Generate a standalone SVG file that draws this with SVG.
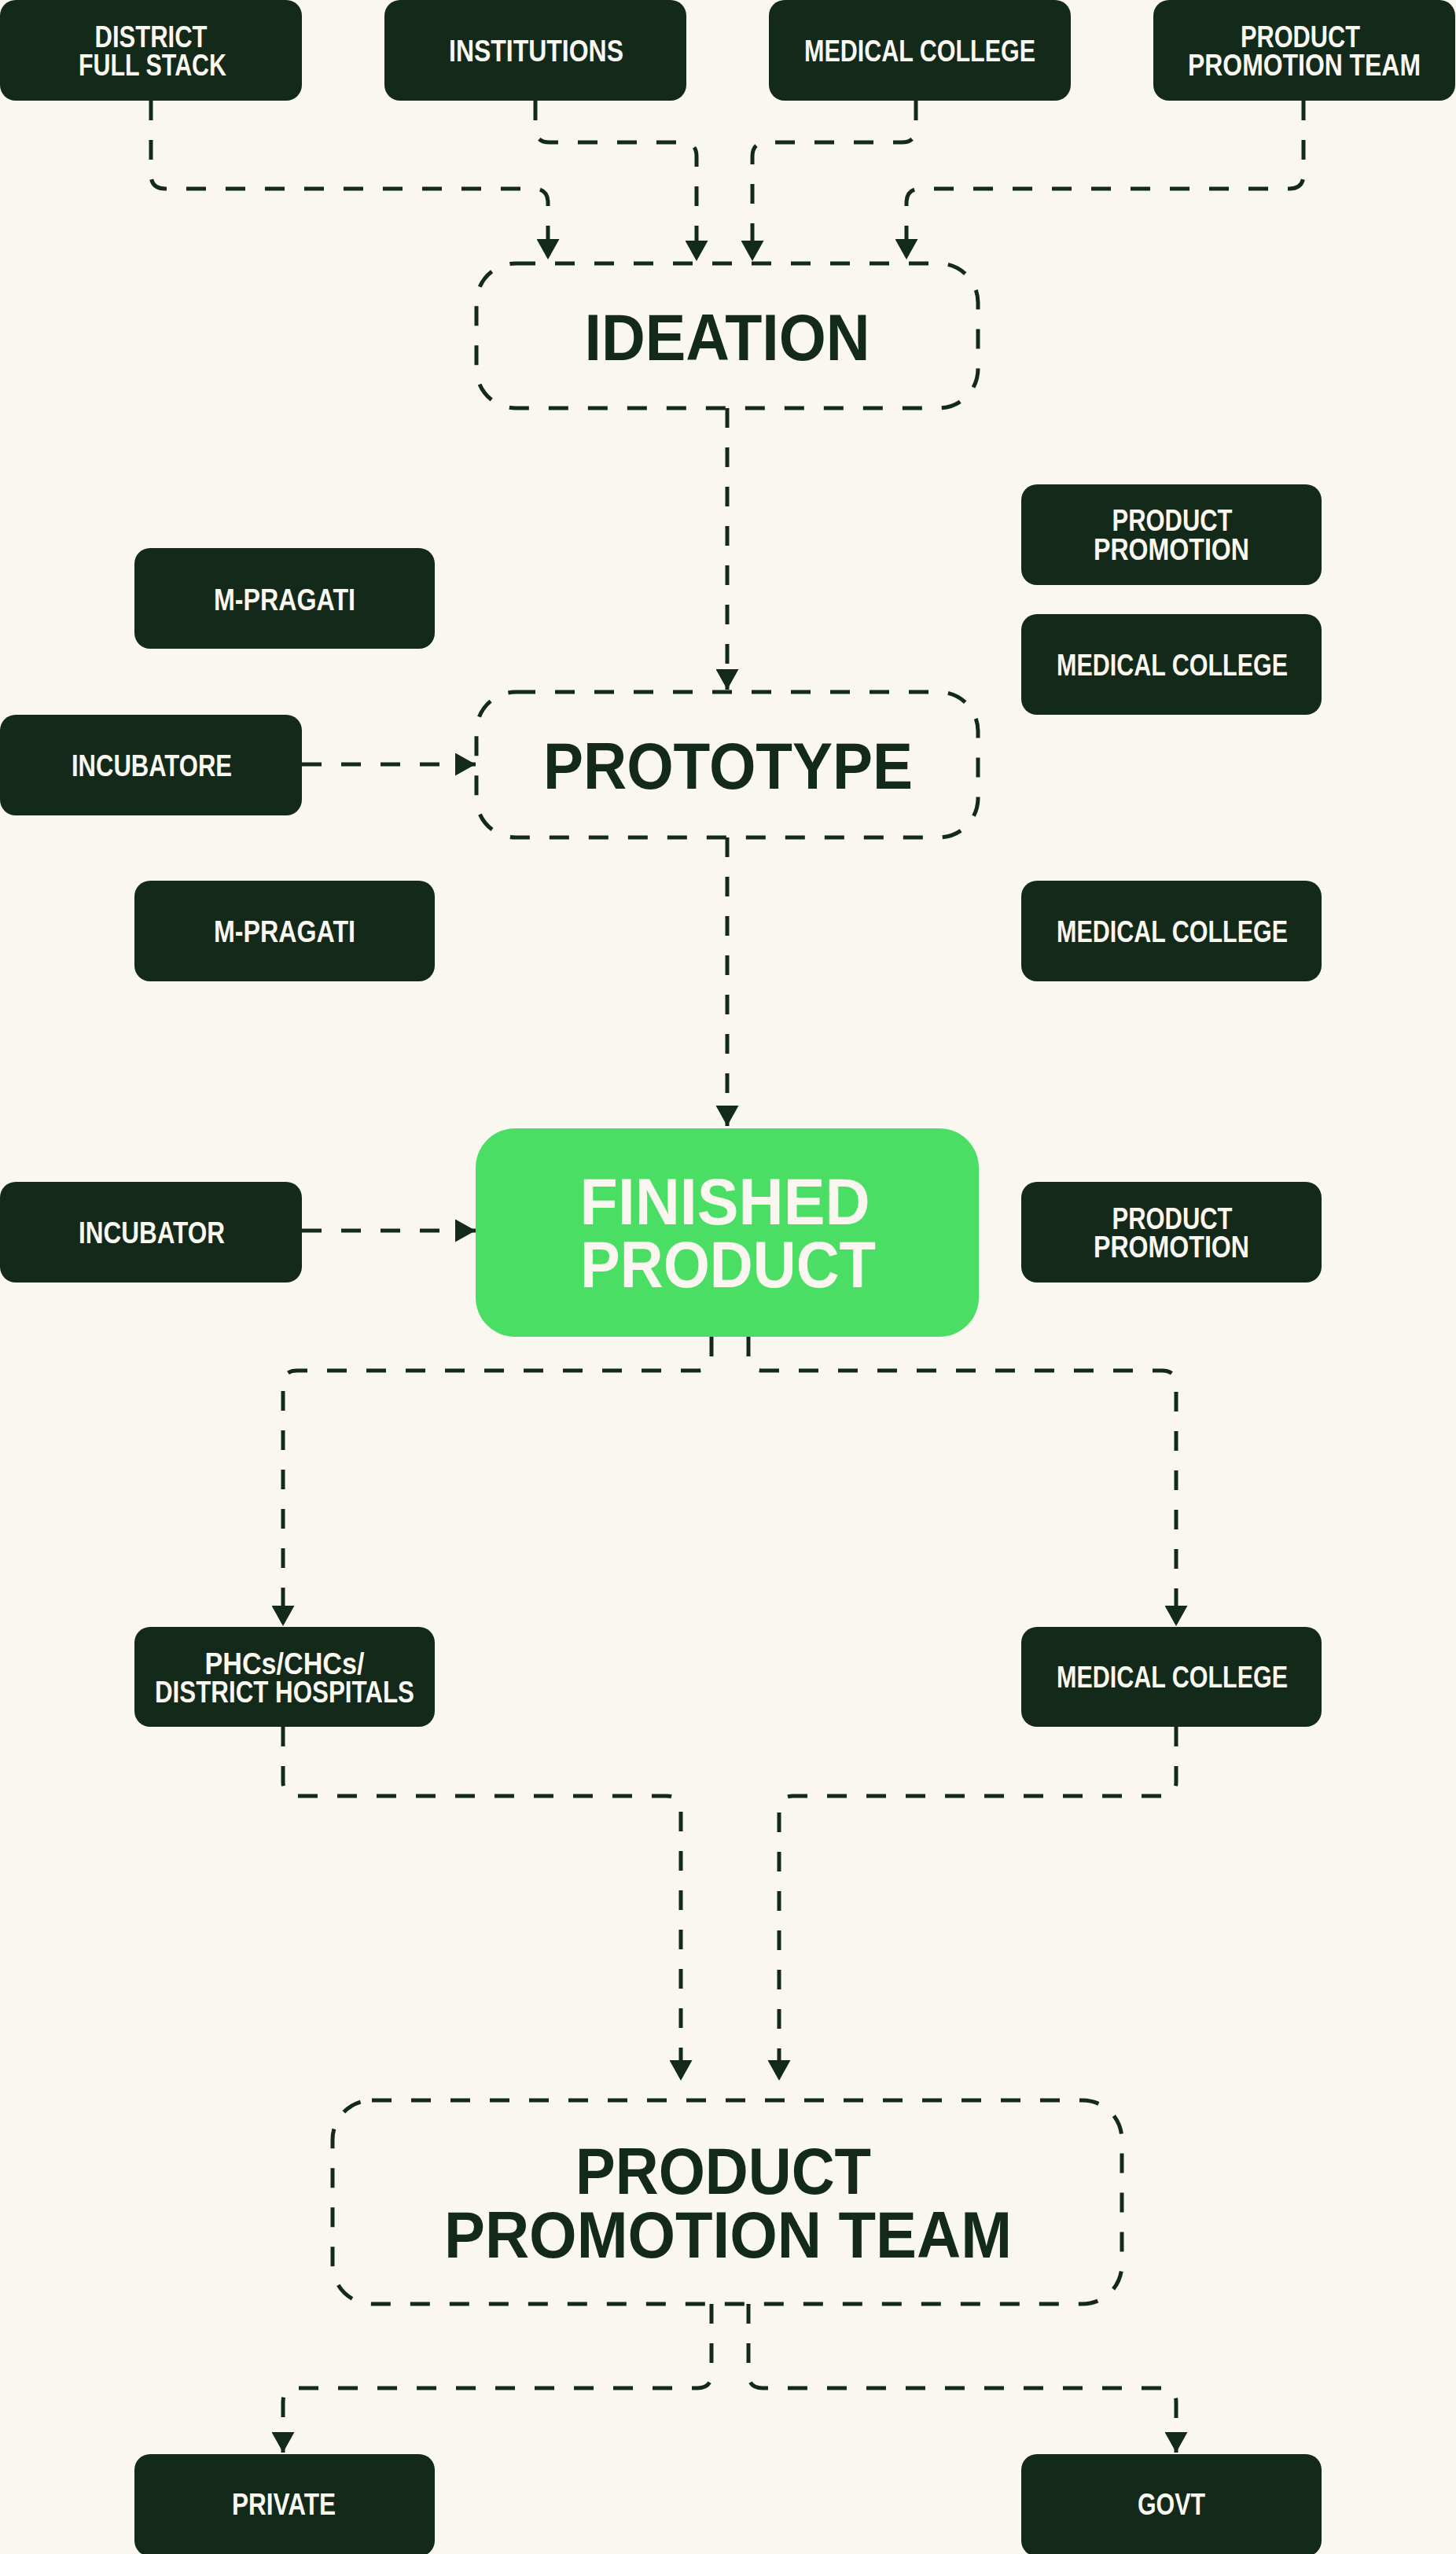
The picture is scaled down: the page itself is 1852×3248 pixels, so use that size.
<svg xmlns="http://www.w3.org/2000/svg" width="1852" height="3248" viewBox="0 0 1852 3248">
<defs>
<style>
.bg{fill:#FAF6F0}
.box{fill:#132A1B}
.t{font-family:"Liberation Sans",Arial,sans-serif;font-weight:700;font-size:39px;fill:#FAF6F0;text-anchor:middle}
.big{font-family:"Liberation Sans",Arial,sans-serif;font-weight:700;font-size:84px;fill:#132A1B;text-anchor:middle}
.bigw{fill:#FAF6F0}
.dash{fill:none;stroke:#132A1B;stroke-width:5;stroke-dasharray:25 25}
.c{fill:none;stroke:#132A1B;stroke-width:5;stroke-dasharray:25 25;marker-end:url(#ah)}
</style>
<marker id="ah" viewBox="0 0 26 29" refX="26" refY="14.5" markerWidth="26" markerHeight="29" markerUnits="userSpaceOnUse" orient="auto">
<path d="M0,0 L26,14.5 L0,29 Z" fill="#132A1B"/>
</marker>
</defs>
<rect class="bg" x="0" y="0" width="1852" height="3248"/>

<g id="connectors">
<path class="c" d="M192,128 V222 Q192,240 210,240 H679 Q697,240 697,258 V330"/>
<path class="c" d="M681,128 V163 Q681,181 699,181 H868 Q886,181 886,199 V332"/>
<path class="c" d="M1165,128 V163 Q1165,181 1147,181 H975 Q957,181 957,199 V332"/>
<path class="c" d="M1658,128 V222 Q1658,240 1640,240 H1171 Q1153,240 1153,258 V330"/>
<path class="c" d="M925,519 V877"/>
<path class="c" d="M384,972 H605"/>
<path class="c" d="M925,1065 V1432"/>
<path class="c" d="M384,1565 H605"/>
<path class="c" d="M905,1700 V1725 Q905,1743 887,1743 H378 Q360,1743 360,1761 V2068"/>
<path class="c" d="M952,1700 V1725 Q952,1743 970,1743 H1478 Q1496,1743 1496,1761 V2068"/>
<path class="c" d="M360,2196 V2266 Q360,2284 378,2284 H848 Q866,2284 866,2302 V2646"/>
<path class="c" d="M1496,2196 V2266 Q1496,2284 1478,2284 H1009 Q991,2284 991,2302 V2646"/>
<path class="c" d="M905,2930 V3019 Q905,3037 887,3037 H378 Q360,3037 360,3055 V3119"/>
<path class="c" d="M952,2930 V3019 Q952,3037 970,3037 H1478 Q1496,3037 1496,3055 V3119"/>
</g>

<g id="n-district">
<rect class="box" x="0" y="0" width="384" height="128" rx="20"/>
<text class="t" x="192" y="60" textLength="143" lengthAdjust="spacingAndGlyphs">DISTRICT</text>
<text class="t" x="194" y="96" textLength="188" lengthAdjust="spacingAndGlyphs">FULL STACK</text>
</g>
<g id="n-institutions">
<rect class="box" x="489" y="0" width="384" height="128" rx="20"/>
<text class="t" x="682" y="78" textLength="222" lengthAdjust="spacingAndGlyphs">INSTITUTIONS</text>
</g>
<g id="n-medcol-top">
<rect class="box" x="978" y="0" width="384" height="128" rx="20"/>
<text class="t" x="1170" y="78" textLength="294" lengthAdjust="spacingAndGlyphs">MEDICAL COLLEGE</text>
</g>
<g id="n-ppt-top">
<rect class="box" x="1467" y="0" width="384" height="128" rx="20"/>
<text class="t" x="1654" y="60" textLength="152" lengthAdjust="spacingAndGlyphs">PRODUCT</text>
<text class="t" x="1659" y="96" textLength="296" lengthAdjust="spacingAndGlyphs">PROMOTION TEAM</text>
</g>

<g id="n-ideation">
<rect class="dash" x="606" y="335" width="638" height="184" rx="50"/>
<text class="big" x="925" y="458" textLength="363" lengthAdjust="spacingAndGlyphs">IDEATION</text>
</g>

<g id="n-mpragati-1">
<rect class="box" x="171" y="697" width="382" height="128" rx="20"/>
<text class="t" x="362" y="776" textLength="180" lengthAdjust="spacingAndGlyphs">M-PRAGATI</text>
</g>
<g id="n-incubatore">
<rect class="box" x="0" y="909" width="384" height="128" rx="20"/>
<text class="t" x="193" y="987" textLength="204" lengthAdjust="spacingAndGlyphs">INCUBATORE</text>
</g>
<g id="n-mpragati-2">
<rect class="box" x="171" y="1120" width="382" height="128" rx="20"/>
<text class="t" x="362" y="1198" textLength="180" lengthAdjust="spacingAndGlyphs">M-PRAGATI</text>
</g>
<g id="n-pp-1">
<rect class="box" x="1299" y="616" width="382" height="128" rx="20"/>
<text class="t" x="1491" y="675" textLength="153" lengthAdjust="spacingAndGlyphs">PRODUCT</text>
<text class="t" x="1490" y="712" textLength="198" lengthAdjust="spacingAndGlyphs">PROMOTION</text>
</g>
<g id="n-medcol-1">
<rect class="box" x="1299" y="781" width="382" height="128" rx="20"/>
<text class="t" x="1491" y="859" textLength="294" lengthAdjust="spacingAndGlyphs">MEDICAL COLLEGE</text>
</g>
<g id="n-medcol-2">
<rect class="box" x="1299" y="1120" width="382" height="128" rx="20"/>
<text class="t" x="1491" y="1198" textLength="294" lengthAdjust="spacingAndGlyphs">MEDICAL COLLEGE</text>
</g>

<g id="n-prototype">
<rect class="dash" x="606" y="880" width="638" height="185" rx="50"/>
<text class="big" x="926" y="1003" textLength="470" lengthAdjust="spacingAndGlyphs">PROTOTYPE</text>
</g>

<g id="n-incubator">
<rect class="box" x="0" y="1503" width="384" height="128" rx="20"/>
<text class="t" x="193" y="1581" textLength="186" lengthAdjust="spacingAndGlyphs">INCUBATOR</text>
</g>
<g id="n-finished">
<rect x="605" y="1435" width="640" height="265" rx="50" fill="#4ADE64"/>
<text class="big bigw" x="922" y="1557" textLength="369" lengthAdjust="spacingAndGlyphs">FINISHED</text>
<text class="big bigw" x="926" y="1637" textLength="376" lengthAdjust="spacingAndGlyphs">PRODUCT</text>
</g>
<g id="n-pp-2">
<rect class="box" x="1299" y="1503" width="382" height="128" rx="20"/>
<text class="t" x="1491" y="1563" textLength="153" lengthAdjust="spacingAndGlyphs">PRODUCT</text>
<text class="t" x="1490" y="1599" textLength="198" lengthAdjust="spacingAndGlyphs">PROMOTION</text>
</g>

<g id="n-phcs">
<rect class="box" x="171" y="2069" width="382" height="127" rx="20"/>
<text class="t" x="362" y="2129" textLength="203" lengthAdjust="spacingAndGlyphs">PHCs/CHCs/</text>
<text class="t" x="362" y="2165" textLength="330" lengthAdjust="spacingAndGlyphs">DISTRICT HOSPITALS</text>
</g>
<g id="n-medcol-3">
<rect class="box" x="1299" y="2069" width="382" height="127" rx="20"/>
<text class="t" x="1491" y="2146" textLength="294" lengthAdjust="spacingAndGlyphs">MEDICAL COLLEGE</text>
</g>

<g id="n-ppt">
<rect class="dash" x="423" y="2671" width="1004" height="259" rx="50"/>
<text class="big" x="920" y="2790" textLength="376" lengthAdjust="spacingAndGlyphs">PRODUCT</text>
<text class="big" x="926" y="2871" textLength="722" lengthAdjust="spacingAndGlyphs">PROMOTION TEAM</text>
</g>

<g id="n-private">
<rect class="box" x="171" y="3121" width="382" height="130" rx="20"/>
<text class="t" x="361" y="3198" textLength="132" lengthAdjust="spacingAndGlyphs">PRIVATE</text>
</g>
<g id="n-govt">
<rect class="box" x="1299" y="3121" width="382" height="130" rx="20"/>
<text class="t" x="1490" y="3198" textLength="86" lengthAdjust="spacingAndGlyphs">GOVT</text>
</g>
</svg>
